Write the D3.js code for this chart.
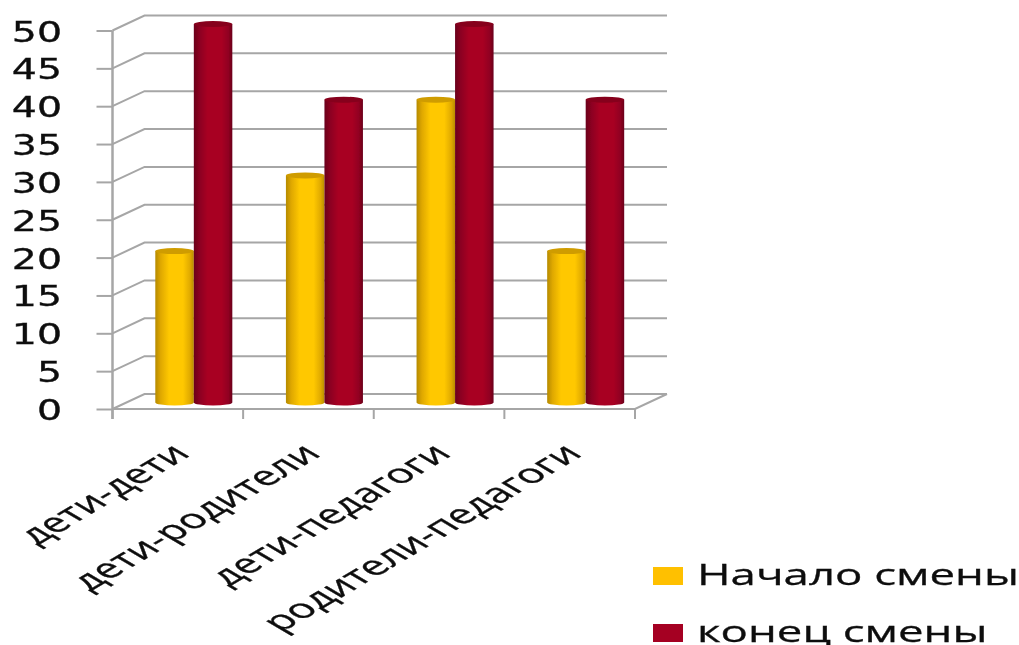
<!DOCTYPE html>
<html><head><meta charset="utf-8">
<script src="https://cdn.jsdelivr.net/npm/d3@7/dist/d3.min.js"></script>
<style>html,body{margin:0;padding:0;background:#fff}svg{display:block}</style></head>
<body><svg id="c" width="1019" height="645"></svg>
<script>
const categories = ["дети-дети","дети-родители","дети-педагоги","родители-педагоги"];
const seriesNames = ["Начало смены","конец смены"];
const startValues = [20,30,40,20];
const endValues = [50,40,50,40];
const yTicks = [0,5,10,15,20,25,30,35,40,45,50];
const seriesValues = [startValues,endValues];

const frontX0=112.5, frontX1=635, y0=409, y50=30.5, depthX=32, depthY=-15;
const svg=d3.select("#c");
const defs=svg.append("defs");
defs.append("filter").attr("id","soft").attr("filterUnits","userSpaceOnUse").attr("x",0).attr("y",0).attr("width",1019).attr("height",645)
  .append("feGaussianBlur").attr("stdDeviation",0.7);
const pal=[{id:"gy",stops:["#b58a00","#dfa800","#ffc800","#ffc800","#e0aa00","#b88c00"],top:"#cf9c00",leg:"#ffc000"},
           {id:"gr",stops:["#6a001a","#8a0020","#a80024","#a80024","#900020","#6a001a"],top:"#86001c",leg:"#a50021"}];
const off=[0,.14,.36,.72,.9,1];
pal.forEach(p=>{const g=defs.append("linearGradient").attr("id",p.id);
  p.stops.forEach((c,i)=>g.append("stop").attr("offset",off[i]).attr("stop-color",c));});

const root=svg.append("g").attr("filter","url(#soft)");
const y=d3.scaleLinear().domain([0,50]).range([y0,y50]);
const x=d3.scaleBand().domain(categories).range([frontX0,frontX1]);
const inner=d3.scaleBand().domain(seriesNames).range([0,x.bandwidth()]).paddingOuter(0.696).paddingInner(0);
const grey="#a6a6a6";

const wall=root.append("g").attr("fill","none").attr("stroke",grey).attr("stroke-width",2);
yTicks.forEach(t=>{
  wall.append("polyline").attr("points",[[frontX0,y(t)],[frontX0+depthX,y(t)+depthY],[frontX1+depthX,y(t)+depthY]].join(" "));
});
wall.append("polyline").attr("points",[[frontX0,y0],[frontX1,y0],[frontX1+depthX,y0+depthY]].join(" "));

const yAxis=root.append("g").attr("transform",`translate(${frontX0},0)`)
  .call(d3.axisLeft(y).tickValues(yTicks).tickSize(16).tickPadding(0));
yAxis.select(".domain").remove();
yAxis.append("line").attr("y1",y50).attr("y2",y0+10).attr("stroke",grey).attr("stroke-width",2.5);
yAxis.selectAll(".tick line").attr("stroke",grey).attr("stroke-width",2);
yAxis.selectAll(".tick text").attr("x",null).attr("dy",null).attr("text-anchor","end").attr("fill","#111")
  .attr("stroke","#111").attr("stroke-width",0.35)
  .style("font-family","'DejaVu Sans'").style("font-size","29px")
  .attr("transform","translate(-50.5,10.5) scale(1.36,1)");

const xAxis=root.append("g").attr("transform",`translate(0,${y0})`)
  .call(d3.axisBottom(x).tickValues([]).tickSize(0));
xAxis.select(".domain").remove();
d3.range(categories.length+1).forEach(i=>{
  const px=frontX0+i*x.step();
  xAxis.append("line").attr("x1",px).attr("x2",px).attr("y1",0).attr("y2",10).attr("stroke",grey).attr("stroke-width",2);
});
root.append("g").selectAll("text").data(categories).join("text")
  .attr("transform",d=>`translate(${x(d)+x.bandwidth()/2+14},${y0+46}) scale(1.7,1) rotate(-45)`)
  .attr("text-anchor","end").attr("fill","#111").attr("stroke","#111").attr("stroke-width",0.3)
  .style("font-family","'Open Sans'").style("font-size","26.8px").text(d=>d);

const ry=3;
const bars=root.append("g").attr("transform",`translate(${depthX/2},${depthY/2+1})`);
seriesValues.forEach((vals,s)=>{
  const g=bars.append("g");
  vals.forEach((v,i)=>{
    const c=categories[i], l=x(c)+inner(seriesNames[s]), w=inner.bandwidth(), r=w/2, top=y(v), bot=y(0);
    g.append("path").attr("fill",`url(#${pal[s].id})`)
      .attr("d",`M${l},${top}L${l},${bot}A${r},${ry} 0 0 0 ${l+w},${bot}L${l+w},${top}Z`);
    g.append("ellipse").attr("cx",l+r).attr("cy",top).attr("rx",r).attr("ry",ry).attr("fill",pal[s].top);
  });
});

const lg=root.append("g");
const legY=[576,633];
seriesNames.forEach((n,i)=>{
  lg.append("rect").attr("x",653).attr("y",legY[i]-9).attr("width",30).attr("height",18).attr("fill",pal[i].leg);
  lg.append("text").attr("transform",`translate(697,${legY[i]+9}) scale(1.52,1)`).attr("fill","#111")
    .attr("stroke","#111").attr("stroke-width",0.3)
    .style("font-family","'Open Sans'").style("font-size","30px").text(n);
});
</script></body></html>
